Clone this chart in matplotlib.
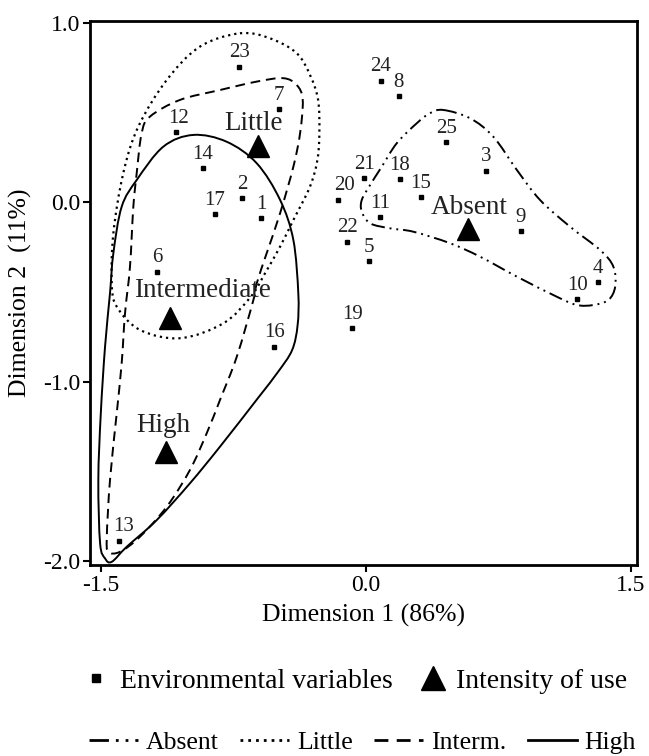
import numpy as np
import matplotlib
matplotlib.use('Agg')
import matplotlib.pyplot as plt
from matplotlib.path import Path
from matplotlib.patches import PathPatch
from matplotlib.lines import Line2D

plt.rcParams['font.family'] = ['Liberation Serif', 'DejaVu Serif']
plt.rcParams['axes.unicode_minus'] = False

# environmental variables (dimension 1, dimension 2)
var_ids = [str(i) for i in range(1, 26)]
var_x = [-0.591, -0.699, 0.680, 1.313, 0.018, -1.181, -0.491, 0.186, 0.876, 1.196,
         0.082, -1.074, -1.396, -0.923, 0.312, -0.519, -0.855, 0.193, -0.078, -0.156,
         -0.008, -0.105, -0.715, 0.086, 0.454]
var_y = [-0.087, 0.024, 0.175, -0.444, -0.329, -0.386, 0.520, 0.592, -0.162, -0.539,
         -0.084, 0.390, -1.885, 0.189, 0.028, -0.804, -0.067, 0.130, -0.702, 0.014,
         0.134, -0.219, 0.755, 0.677, 0.334]

# intensity of use
use_names = ['Little', 'Absent', 'Intermediate', 'High']
use_x = [-0.610, 0.578, -1.107, -1.130]
use_y = [0.312, -0.147, -0.646, -1.393]

# hand drawn group outlines
absent_x = [0.438, 0.589, 0.721, 0.854, 0.985, 1.155, 1.325, 1.400, 1.410, 1.372, 1.287,
            1.193, 1.080, 0.854, 0.646, 0.476, 0.269, 0.137, 0.024, -0.023, -0.023, 0.024,
            0.090, 0.175, 0.288, 0.363]
absent_y = [0.514, 0.468, 0.365, 0.180, 0.013, -0.136, -0.266, -0.359, -0.470, -0.544,
            -0.572, -0.572, -0.526, -0.414, -0.303, -0.228, -0.164, -0.145, -0.117, -0.052,
            0.013, 0.096, 0.198, 0.329, 0.440, 0.496]
little_x = [-0.712, -0.542, -0.391, -0.316, -0.270, -0.263, -0.274, -0.316, -0.410, -0.485,
            -0.570, -0.650, -0.806, -1.051, -1.277, -1.409, -1.437, -1.428, -1.372, -1.287,
            -1.126, -0.938]
little_y = [0.941, 0.913, 0.830, 0.709, 0.570, 0.384, 0.236, 0.087, -0.099, -0.247,
            -0.395, -0.525, -0.674, -0.757, -0.711, -0.581, -0.451, -0.173, 0.162, 0.421,
            0.681, 0.867]
interm_x = [-0.467, -0.391, -0.357, -0.372, -0.410, -0.485, -0.561, -0.617, -0.636, -0.730,
            -0.825, -0.900, -0.995, -1.126, -1.277, -1.390, -1.456, -1.465, -1.447, -1.409,
            -1.381, -1.362, -1.334, -1.315, -1.296, -1.268, -1.221, -1.051, -0.825, -0.617]
interm_y = [0.691, 0.653, 0.570, 0.384, 0.198, -0.061, -0.284, -0.451, -0.544, -0.860,
            -1.101, -1.286, -1.491, -1.695, -1.862, -1.946, -1.946, -1.862, -1.547, -1.175,
            -0.897, -0.618, -0.359, -0.025, 0.162, 0.384, 0.477, 0.570, 0.625, 0.672]
high_x = [-0.976, -0.787, -0.617, -0.485, -0.410, -0.382, -0.386, -0.417, -0.497, -0.610,
          -0.825, -0.995, -1.183, -1.352, -1.437, -1.475, -1.503, -1.513, -1.499, -1.475,
          -1.447, -1.428, -1.381, -1.296, -1.145]
high_y = [0.375, 0.337, 0.217, 0.013, -0.210, -0.507, -0.684, -0.823, -0.945, -1.090,
          -1.361, -1.565, -1.770, -1.918, -2.002, -1.983, -1.899, -1.547, -1.175, -0.804,
          -0.507, -0.284, -0.025, 0.124, 0.310]

group_names = ['Absent', 'Little', 'Interm.', 'High']
group_styles = [(0, (7, 2.5, 1, 2.5, 1, 2.5)), (0, (1, 1.8)), (0, (5, 3)), '-']


def smooth_outline(xs, ys):
    """closed Catmull-Rom curve through the points, as cubic Bezier segments"""
    p = np.column_stack([xs, ys])
    n = len(p)
    verts = [p[0]]
    codes = [Path.MOVETO]
    for i in range(n):
        p0, p1, p2, p3 = p[i - 1], p[i], p[(i + 1) % n], p[(i + 2) % n]
        verts += [p1 + (p2 - p0) / 6, p2 - (p3 - p1) / 6, p2]
        codes += [Path.CURVE4] * 3
    return Path(verts, codes)


fig = plt.figure(figsize=(6.49, 7.56), dpi=100)
ax = fig.add_axes([0.1387, 0.2526, 0.8424, 0.72])

outlines = [(absent_x, absent_y), (little_x, little_y), (interm_x, interm_y), (high_x, high_y)]
for (xs, ys), ls in zip(outlines, group_styles):
    lw = 1.6 if ls == (0, (1, 1.8)) else 1.4
    ax.add_patch(PathPatch(smooth_outline(xs, ys), fill=False, edgecolor='black',
                           linewidth=lw, linestyle=ls, capstyle='butt'))

ax.plot(var_x, var_y, 's', color='black', markersize=3)
label_dx = {'20': 4.5, '13': 3.0, '12': 2.0}
for name, x, y in zip(var_ids, var_x, var_y):
    ax.annotate(name, (x, y), xytext=(label_dx.get(name, 0), 10), textcoords='offset points',
                ha='center', va='center', fontsize=15, color='#222222')

ax.plot(use_x, use_y, '^', color='black', markersize=16)
use_offsets = [(-3, 16.5), (0.5, 15), (23.5, 20), (-2, 19.5)]
for name, x, y, off in zip(use_names, use_x, use_y, use_offsets):
    ax.annotate(name, (x, y), xytext=off, textcoords='offset points',
                ha='center', va='center', fontsize=19.5, color='#222222')

ax.set_xlim(-1.560, 1.532)
ax.set_ylim(-2.020, 1.011)
ax.set_xticks([-1.5, 0.0, 1.5])
ax.set_yticks([1.0, 0.0, -1.0, -2.0])
ax.set_xticklabels(['-1.5', '0.0', '1.5'])
ax.set_yticklabels(['1.0', '0.0', '-1.0', '-2.0'])
ax.tick_params(direction='out', length=5, width=1.5, labelsize=17, pad=2)
for s in ax.spines.values():
    s.set_linewidth(2)
ax.set_xlabel('Dimension 1 (86%)', fontsize=18.5, labelpad=6)
ax.set_ylabel('Dimension 2  (11%)', fontsize=18.5, labelpad=8)

h1 = [Line2D([], [], marker='s', ls='none', color='black', markersize=6),
      Line2D([], [], marker='^', ls='none', color='black', markersize=17)]
fig.legend(h1, ['Environmental variables', 'Intensity of use'], loc='center',
           bbox_to_anchor=(0.548, 0.0992), ncol=2, frameon=False, fontsize=20,
           handlelength=0.9, handletextpad=0.4, columnspacing=1.0)

h2 = [Line2D([], [], color='black', lw=2, ls=ls) for ls in group_styles]
fig.legend(h2, group_names, loc='center', bbox_to_anchor=(0.5586, 0.0185), ncol=4,
           frameon=False, fontsize=18.5, handlelength=1.9, handletextpad=0.3,
           columnspacing=0.85)

fig.savefig('out.png', dpi=100)
